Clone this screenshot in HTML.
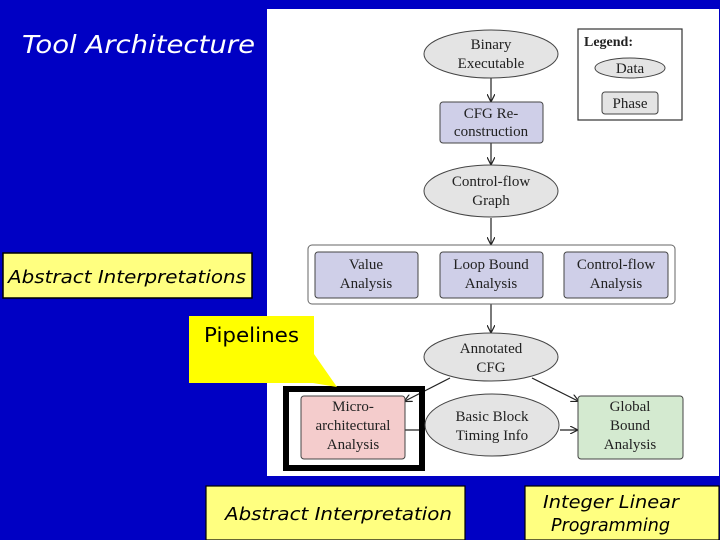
<!DOCTYPE html>
<html><head><meta charset="utf-8"><style>
html,body{margin:0;padding:0;background:#0000c4;}
svg{display:block}
.s{font-family:"Liberation Serif",serif;font-size:15px;fill:#222;text-anchor:middle}
.c{font-family:"DejaVu Sans","Liberation Sans",sans-serif;font-style:oblique}
</style></head><body>
<svg width="720" height="540" viewBox="0 0 720 540" xmlns="http://www.w3.org/2000/svg">
<defs>
<marker id="a" markerWidth="8" markerHeight="8" refX="7" refY="4" orient="auto" markerUnits="userSpaceOnUse"><path d="M0,0 L8,4 L0,8" fill="none" stroke="#222" stroke-width="1.2"/></marker>
</defs>
<rect width="720" height="540" fill="#0000c4"/>
<rect x="267" y="9" width="452" height="467" fill="#fff"/>
<rect x="578" y="29" width="104" height="91" fill="#fff" stroke="#333" stroke-width="1.2"/>
<text x="584" y="46" font-family="Liberation Serif" font-weight="bold" font-size="14" fill="#222">Legend:</text>
<ellipse cx="630" cy="68" rx="35" ry="10" fill="#e4e4e4" stroke="#444"/>
<text x="630" y="73" class="s" font-size="14">Data</text>
<rect x="602" y="92" width="56" height="22" rx="3" fill="#e4e4e4" stroke="#444"/>
<text x="630" y="108" class="s" font-size="14">Phase</text>
<g stroke="#222" stroke-width="1.2" marker-end="url(#a)">
<line x1="491" y1="78" x2="491" y2="101"/>
<line x1="491" y1="143" x2="491" y2="164"/>
<line x1="491" y1="218" x2="491" y2="244"/>
<line x1="491" y1="304" x2="491" y2="332"/>
<line x1="450" y1="378" x2="405" y2="401"/>
<line x1="532" y1="378" x2="578" y2="401"/>
<line x1="560" y1="430" x2="577" y2="430"/>
</g>
<line x1="405" y1="430" x2="425" y2="430" stroke="#222" stroke-width="1.2"/>
<ellipse cx="491" cy="54" rx="67" ry="24" fill="#e4e4e4" stroke="#444"/>
<text class="s" x="491" y="49">Binary</text><text class="s" x="491" y="68">Executable</text>
<rect x="440" y="102" width="103" height="41" rx="3" fill="#cfcfe8" stroke="#444"/>
<text class="s" x="491" y="118">CFG Re-</text><text class="s" x="491" y="136">construction</text>
<ellipse cx="491" cy="191" rx="67" ry="26" fill="#e4e4e4" stroke="#444"/>
<text class="s" x="491" y="186">Control-flow</text><text class="s" x="491" y="205">Graph</text>
<rect x="308" y="245" width="367" height="59" rx="4" fill="#fff" stroke="#666"/>
<rect x="315" y="252" width="103" height="46" rx="3" fill="#cfcfe8" stroke="#444"/>
<text class="s" x="366" y="269">Value</text><text class="s" x="366" y="288">Analysis</text>
<rect x="440" y="252" width="103" height="46" rx="3" fill="#cfcfe8" stroke="#444"/>
<text class="s" x="491" y="269">Loop Bound</text><text class="s" x="491" y="288">Analysis</text>
<rect x="564" y="252" width="104" height="46" rx="3" fill="#cfcfe8" stroke="#444"/>
<text class="s" x="616" y="269">Control-flow</text><text class="s" x="616" y="288">Analysis</text>
<ellipse cx="491" cy="357" rx="67" ry="24" fill="#e4e4e4" stroke="#444"/>
<text class="s" x="491" y="353">Annotated</text><text class="s" x="491" y="372">CFG</text>
<rect x="286" y="389" width="136" height="79" fill="none" stroke="#000" stroke-width="6"/>
<rect x="301" y="396" width="104" height="63" rx="3" fill="#f4cccc" stroke="#444"/>
<text class="s" x="353" y="411">Micro-</text><text class="s" x="353" y="430">architectural</text><text class="s" x="353" y="449">Analysis</text>
<ellipse cx="492" cy="425" rx="67" ry="31" fill="#e4e4e4" stroke="#444"/>
<text class="s" x="492" y="421">Basic Block</text><text class="s" x="492" y="440">Timing Info</text>
<rect x="578" y="396" width="105" height="63" rx="3" fill="#d4ead0" stroke="#444"/>
<text class="s" x="630" y="411">Global</text><text class="s" x="630" y="430">Bound</text><text class="s" x="630" y="449">Analysis</text>
<text x="22" y="53" class="c" font-size="25" fill="#fff" textLength="233" lengthAdjust="spacingAndGlyphs">Tool Architecture</text>
<rect x="3" y="253" width="249" height="45" fill="#ffff80" stroke="#000" stroke-width="1.5"/>
<text x="8" y="283" class="c" font-size="18" fill="#000" textLength="238" lengthAdjust="spacingAndGlyphs">Abstract Interpretations</text>
<path d="M189,316 H314 V354 L337,387 L313,383 H189 Z" fill="#ffff00"/>
<text x="204" y="342" font-family="DejaVu Sans, sans-serif" font-size="20" fill="#000" textLength="95" lengthAdjust="spacingAndGlyphs">Pipelines</text>
<rect x="206" y="486" width="259" height="54" fill="#ffff80" stroke="#000" stroke-width="1.2"/>
<text x="225" y="520" class="c" font-size="18" fill="#000" textLength="227" lengthAdjust="spacingAndGlyphs">Abstract Interpretation</text>
<rect x="525" y="486" width="194" height="54" fill="#ffff80" stroke="#000" stroke-width="1.2"/>
<text x="543" y="508" class="c" font-size="18" fill="#000" textLength="136" lengthAdjust="spacingAndGlyphs">Integer Linear</text>
<text x="551" y="531" class="c" font-size="18" fill="#000" textLength="119" lengthAdjust="spacingAndGlyphs">Programming</text>
</svg>
</body></html>
